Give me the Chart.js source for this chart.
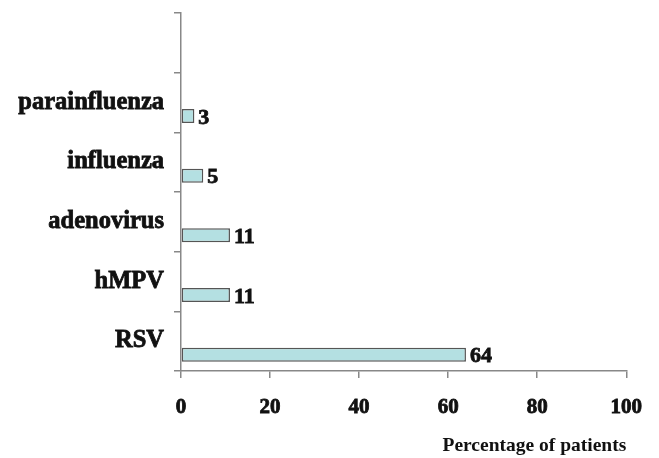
<!DOCTYPE html>
<html>
<head>
<meta charset="utf-8">
<script src="https://cdn.jsdelivr.net/npm/chart.js@4/dist/chart.umd.min.js"></script>
<style>
  html, body { margin: 0; padding: 0; background: #fff; }
  #wrap { width: 659px; height: 458px; position: relative; }
</style>
</head>
<body>
<div id="wrap"><canvas id="chart"></canvas></div>
<script>
// categories top to bottom (top slot left empty as in the original)
var categories = ["", "parainfluenza", "influenza", "adenovirus", "hMPV", "RSV"];
var percentValues = [null, 3, 5, 11, 11, 64];
var spacerValues = [null, null, null, null, null, null];
var xTicks = [0, 20, 40, 60, 80, 100];

var serif = "'Liberation Serif', 'Times New Roman', serif";
var ink = "#111";

// values written at the end of each bar
var valueLabels = {
    id: "valueLabels",
    afterDatasetsDraw: function (chart) {
        var ctx = chart.ctx;
        var meta = chart.getDatasetMeta(1);
        ctx.save();
        ctx.font = "bold 22px " + serif;
        ctx.fillStyle = ink;
        ctx.strokeStyle = ink;
        ctx.lineWidth = 0.8;
        ctx.textAlign = "left";
        ctx.textBaseline = "middle";
        meta.data.forEach(function (bar, i) {
            if (percentValues[i] === null) return;
            ctx.strokeText(String(percentValues[i]), bar.x + 4, bar.y + 2);
            ctx.fillText(String(percentValues[i]), bar.x + 4, bar.y + 2);
        });
        ctx.restore();
    }
};

new Chart(document.getElementById("chart"), {
    type: "bar",
    data: {
        labels: categories,
        datasets: [{
            data: spacerValues,
            backgroundColor: "rgba(0,0,0,0)"
        }, {
            data: percentValues,
            backgroundColor: "#b4e0e2",
            borderColor: "#555",
            borderWidth: 1.5,
            borderSkipped: false
        }]
    },
    options: {
        indexAxis: "y",
        responsive: true,
        maintainAspectRatio: false,
        animation: false,
        categoryPercentage: 0.905,
        barPercentage: 0.52,
        layout: { padding: { top: 13, right: 32, bottom: 0, left: 0 } },
        plugins: {
            legend: { display: false },
            tooltip: { enabled: false }
        },
        scales: {
            x: {
                min: 0,
                max: 100,
                afterBuildTicks: function (scale) {
                    scale.ticks = xTicks.map(function (v) { return { value: v }; });
                },
                afterFit: function (scale) { scale.height = 87; },
                border: { color: "#888", width: 1.5 },
                grid: { drawOnChartArea: false, drawTicks: true, tickLength: 7, color: "#888", lineWidth: 1.5 },
                ticks: {
                    color: ink,
                    padding: 17,
                    maxRotation: 0,
                    textStrokeColor: ink,
                    textStrokeWidth: 0.8,
                    font: { family: serif, size: 21, weight: "bold" }
                },
                title: {
                    display: true,
                    text: "Percentage of patients",
                    align: "end",
                    color: ink,
                    padding: { top: 13, bottom: 0 },
                    font: { family: serif, size: 19.5, weight: "bold" }
                }
            },
            y: {
                afterFit: function (scale) {
                    scale.width = 181;
                    scale.paddingTop = 0;
                    scale.paddingBottom = 0;
                },
                border: { color: "#888", width: 1.5 },
                grid: { drawOnChartArea: false, drawTicks: true, tickLength: 7, offset: true, color: "#888", lineWidth: 1.5 },
                ticks: {
                    color: ink,
                    padding: 10,
                    textStrokeColor: ink,
                    textStrokeWidth: 0.8,
                    font: { family: serif, size: 24.5, weight: "bold" }
                }
            }
        }
    },
    plugins: [valueLabels]
});
</script>
</body>
</html>
